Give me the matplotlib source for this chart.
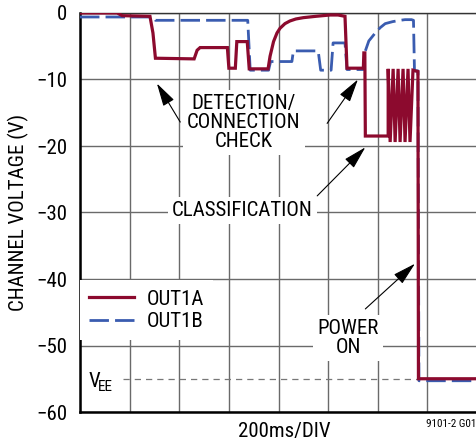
import matplotlib
matplotlib.use("Agg")
import matplotlib.pyplot as plt
from matplotlib.lines import Line2D

plt.rcParams['font.family'] = ['Roboto Condensed', 'DejaVu Sans']

# ---- data (x in 200 ms divisions, y in volts) ----
out1a_x = [0, 0.75, 0.85, 1.41, 1.47, 1.52, 2.30, 2.36, 2.42, 2.97, 3.00, 3.13, 3.16, 3.37, 3.41, 3.79,
           3.83, 3.90, 3.97, 4.03, 4.13, 4.23, 4.35, 4.50, 4.75, 5.04, 5.20, 5.34, 5.38, 5.71, 5.72, 5.74, 5.75,
           6.21, 6.21, 6.25, 6.31, 6.35, 6.41, 6.45, 6.51, 6.55, 6.61, 6.65, 6.71, 6.81, 6.82, 8.0]
out1a_y = [0, 0, -0.4, -0.5, -3.0, -6.8, -6.9, -5.6, -5.2, -5.2, -8.3, -8.3, -4.3, -4.3, -8.4, -8.4,
           -6.5, -4.3, -3.0, -2.3, -1.6, -1.2, -0.9, -0.7, -0.5, -0.3, -0.3, -0.5, -8.3, -8.3, -6.0, -6.0, -18.5,
           -18.5, -8.4, -19.4, -8.4, -19.4, -8.4, -19.4, -8.4, -19.4, -8.4, -19.4, -8.6, -8.8, -55.0, -55.0]

out1b_x = [0, 1.47, 1.52, 3.38, 3.43, 3.80, 3.84, 4.27, 4.30, 4.80, 4.85, 5.06, 5.10, 5.34, 5.38, 5.71,
           5.75, 5.82, 5.95, 6.05, 6.15, 6.30, 6.45, 6.55, 6.68, 6.72, 6.74, 6.81, 6.83, 8.0]
out1b_y = [-0.6, -0.6, -1.1, -1.1, -8.6, -8.6, -7.3, -7.3, -5.7, -5.7, -8.6, -8.6, -4.5, -4.5, -8.5, -8.5,
           -5.7, -4.2, -3.0, -2.2, -1.6, -1.3, -1.1, -1.0, -1.0, -1.1, -8.7, -8.7, -55.3, -55.3]

vee = -55.0
vee_x = [0.87, 6.82]

yticks = [0, -10, -20, -30, -40, -50, -60]
ytick_labels = ["0", "\u221210", "\u221220", "\u221230", "\u221240", "\u221250", "\u221260"]
xticks = [0, 1, 2, 3, 4, 5, 6, 7, 8]

RED = '#8c0a2e'
BLUE = '#3a5cb0'
GRID = '#6a6a6a'

fig = plt.figure(figsize=(4.77, 4.44), dpi=100)
ax = fig.add_axes([80/477, 1-412/444, 397/477, 399/444])
ax.set_xlim(0, 8)
ax.set_ylim(-60, 0)
ax.set_yticks(yticks)
ax.set_yticklabels(ytick_labels)
ax.set_xticks(xticks)
ax.set_xticklabels([])
ax.tick_params(axis='both', length=0, labelsize=15, pad=9)
ax.grid(True, color=GRID, lw=1.0, zorder=0)
ax.set_axisbelow(True)
for s in ['left', 'bottom']:
    ax.spines[s].set_linewidth(1.8)
    ax.spines[s].set_color('black')
ax.spines['top'].set_color('#333333')
ax.spines['top'].set_linewidth(1.0)
ax.spines['right'].set_visible(False)

ax.set_ylabel("CHANNEL VOLTAGE (V)", fontsize=15, labelpad=5)
ax.text(0.515, -0.05, "200ms/DIV", transform=ax.transAxes, ha='center', va='center', fontsize=15)
fig.text(0.999, 1-424/444, "9101-2 G01", ha='right', va='center', fontsize=8)

# VEE reference line
ax.plot(vee_x, [vee, vee], color='#777777', lw=0.9, ls=(0, (5, 4)), zorder=2)
ax.text(0.17, vee - 0.4, "V", fontsize=15, ha='left', va='center', zorder=3)
ax.text(0.37, vee - 1.2, "EE", fontsize=11, ha='left', va='center', zorder=3)

# traces
ax.plot(out1b_x, out1b_y, color=BLUE, lw=2.0, ls=(0, (7, 2.2)), zorder=4, solid_joinstyle='miter')
ax.plot(out1a_x, out1a_y, color=RED, lw=2.3, zorder=5, solid_joinstyle='miter')

box = dict(facecolor='white', edgecolor='none', pad=3)
tkw = dict(fontsize=15, ha='center', va='center', linespacing=1.0, zorder=6, bbox=box)
ax.text(3.30, -16.5, "DETECTION/\nCONNECTION\nCHECK", **tkw)
ax.text(3.27, -29.7, "CLASSIFICATION", **tkw)
ax.text(5.40, -48.9, "POWER\nON", **tkw)

akw = dict(arrowstyle='-|>,head_length=1.3,head_width=0.35', color='black', lw=0.8,
           shrinkA=0, shrinkB=0, mutation_scale=11)
ax.annotate("", xy=(1.55, -10.6), xytext=(2.02, -16.4), arrowprops=akw, zorder=7)
ax.annotate("", xy=(5.60, -10.0), xytext=(4.98, -16.6), arrowprops=akw, zorder=7)
ax.annotate("", xy=(5.75, -20.2), xytext=(4.78, -27.5), arrowprops=akw, zorder=7)
ax.annotate("", xy=(6.75, -37.7), xytext=(5.75, -44.5), arrowprops=akw, zorder=7)

handles = [Line2D([], [], color=RED, lw=2.3),
           Line2D([], [], color=BLUE, lw=2.0, ls=(0, (7, 2.2)))]
leg = ax.legend(handles, ["OUT1A", "OUT1B"], loc='upper left', bbox_to_anchor=(0.0, 0.33),
                fontsize=15, frameon=True, fancybox=False, handlelength=2.15, handletextpad=0.6,
                labelspacing=0.15, borderpad=0.45, borderaxespad=0.0)
leg.get_frame().set_facecolor('white')
leg.get_frame().set_edgecolor('none')
leg.get_frame().set_alpha(1)
leg.set_zorder(8)

fig.savefig("out.png", dpi=100)
